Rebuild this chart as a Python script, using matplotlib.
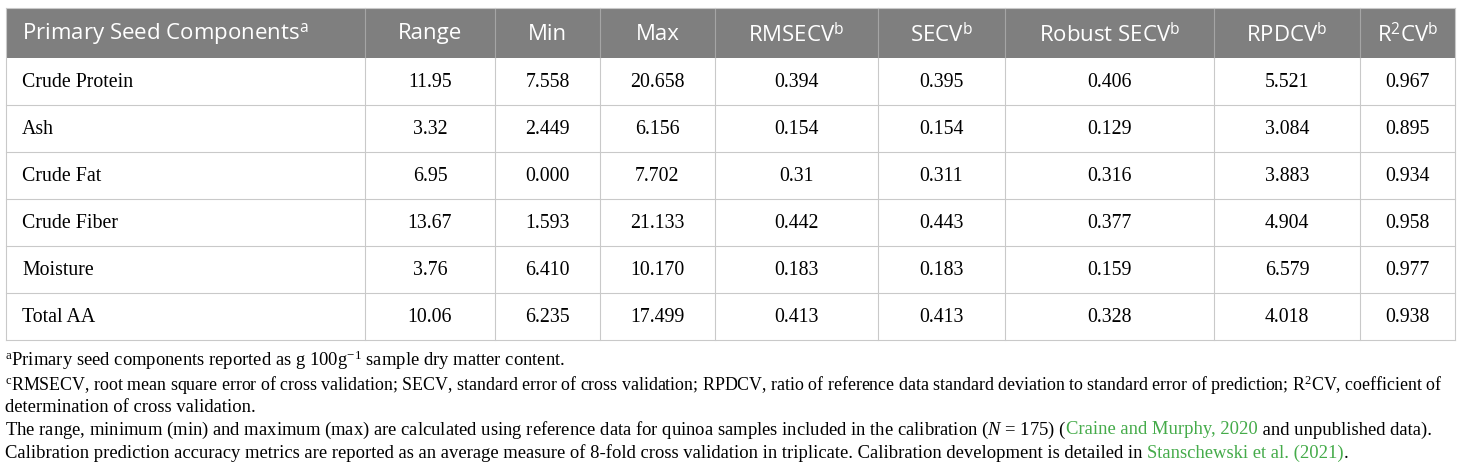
import matplotlib
matplotlib.use("Agg")
import matplotlib.pyplot as plt
from matplotlib.patches import Rectangle

plt.rcParams['mathtext.fontset'] = 'custom'
plt.rcParams['mathtext.rm'] = 'Liberation Serif'
plt.rcParams['mathtext.it'] = 'Liberation Serif:italic'
plt.rcParams['mathtext.sf'] = 'Open Sans'

# table content
headers = [r'Primary Seed Components$^{\mathsf{a}}$', 'Range', 'Min', 'Max',
           r'RMSECV$^{\mathsf{b}}$', r'SECV$^{\mathsf{b}}$', r'Robust SECV$^{\mathsf{b}}$',
           r'RPDCV$^{\mathsf{b}}$', r'R$^{\mathsf{2}}$CV$^{\mathsf{b}}$']
components = ['Crude Protein', 'Ash', 'Crude Fat', 'Crude Fiber', 'Moisture', 'Total AA']
range_vals = ['11.95', '3.32', '6.95', '13.67', '3.76', '10.06']
min_vals = ['7.558', '2.449', '0.000', '1.593', '6.410', '6.235']
max_vals = ['20.658', '6.156', '7.702', '21.133', '10.170', '17.499']
rmsecv = ['0.394', '0.154', '0.31', '0.442', '0.183', '0.413']
secv = ['0.395', '0.154', '0.311', '0.443', '0.183', '0.413']
robust_secv = ['0.406', '0.129', '0.316', '0.377', '0.159', '0.328']
rpdcv = ['5.521', '3.084', '3.883', '4.904', '6.579', '4.018']
r2cv = ['0.967', '0.895', '0.934', '0.958', '0.977', '0.938']

# footnotes: list of (text, color) pieces per line
GREEN = '#45ab4a'
footnotes = [
    [(r'$^{\mathrm{a}}$Primary seed components reported as g 100g$^{\mathrm{-1}}$ sample dry matter content.', 'k')],
    [(r'$^{\mathrm{c}}$RMSECV, root mean square error of cross validation; SECV, standard error of cross validation; '
      r'RPDCV, ratio of reference data standard deviation to standard error of prediction; R$^{\mathrm{2}}$CV, coefficient of', 'k')],
    [('determination of cross validation.', 'k')],
    [(r'The range, minimum (min) and maximum (max) are calculated using reference data for quinoa samples included in the calibration ($\mathit{N}$ = 175) (', 'k'),
     ('Craine and Murphy, 2020', GREEN), (' and unpublished data).', 'k')],
    [('Calibration prediction accuracy metrics are reported as an average measure of 8-fold cross validation in triplicate. '
      'Calibration development is detailed in ', 'k'),
     ('Stanschewski et al. (2021)', GREEN), ('.', 'k')],
]

columns = [components, range_vals, min_vals, max_vals, rmsecv, secv, robust_secv, rpdcv, r2cv]
col_edges = [6, 365, 495, 600, 715, 878, 1005, 1214, 1360, 1455]
header_top, header_bot = 8, 58
row_h = 47

W, H = 1460, 472
fig = plt.figure(figsize=(W / 100, H / 100), dpi=100)
ax = fig.add_axes([0, 0, 1, 1])
ax.set_xlim(0, W)
ax.set_ylim(H, 0)
ax.axis('off')

n_rows = len(components)
table_bot = header_bot + n_rows * row_h
grid_c = '#c9c9c9'

# header band
ax.add_patch(Rectangle((col_edges[0], header_top), col_edges[-1] - col_edges[0],
                       header_bot - header_top, color='#7f7f7f', lw=0))
for x in col_edges[1:-1]:
    ax.plot([x, x], [header_top, header_bot], color='#a5a5a5', lw=0.8)
    ax.plot([x, x], [header_bot, table_bot], color=grid_c, lw=0.8)
for i in range(1, n_rows + 1):
    y = header_bot + i * row_h
    ax.plot([col_edges[0], col_edges[-1]], [y, y], color=grid_c, lw=0.8)
ax.plot([col_edges[0], col_edges[0]], [header_top, table_bot], color=grid_c, lw=0.8)
ax.plot([col_edges[-1], col_edges[-1]], [header_top, table_bot], color=grid_c, lw=0.8)
ax.plot([col_edges[0], col_edges[-1]], [header_top, header_top], color=grid_c, lw=0.8)

hy = (header_top + header_bot) / 2 + 1
for j, h in enumerate(headers):
    if j == 0:
        ax.text(col_edges[0] + 16, hy, h, color='white', fontsize=16, family='Open Sans',
                ha='left', va='center')
    else:
        ax.text((col_edges[j] + col_edges[j + 1]) / 2, hy, h, color='white', fontsize=16,
                family='Open Sans', ha='center', va='center')

for j, col in enumerate(columns):
    for i, v in enumerate(col):
        y = header_bot + (i + 0.5) * row_h + 1
        if j == 0:
            ax.text(col_edges[0] + 16, y, v, fontsize=14.3, family='Liberation Serif',
                    ha='left', va='center')
        else:
            ax.text((col_edges[j] + col_edges[j + 1]) / 2, y, v, fontsize=14.3,
                    family='Liberation Serif', ha='center', va='center')

# footnotes, pieces laid out one after another
fig.canvas.draw()
renderer = fig.canvas.get_renderer()
fy = [360, 385, 407, 430, 453]
fsize = [13.4, 12.9, 13.4, 13.4, 13.4]
for line, y, fs in zip(footnotes, fy, fsize):
    x = 5
    for txt, c in line:
        t = ax.text(x, y, txt, fontsize=fs, family='Liberation Serif', color=c,
                    ha='left', va='center')
        bb = t.get_window_extent(renderer)
        x += bb.width

fig.savefig('out.png', dpi=100)
